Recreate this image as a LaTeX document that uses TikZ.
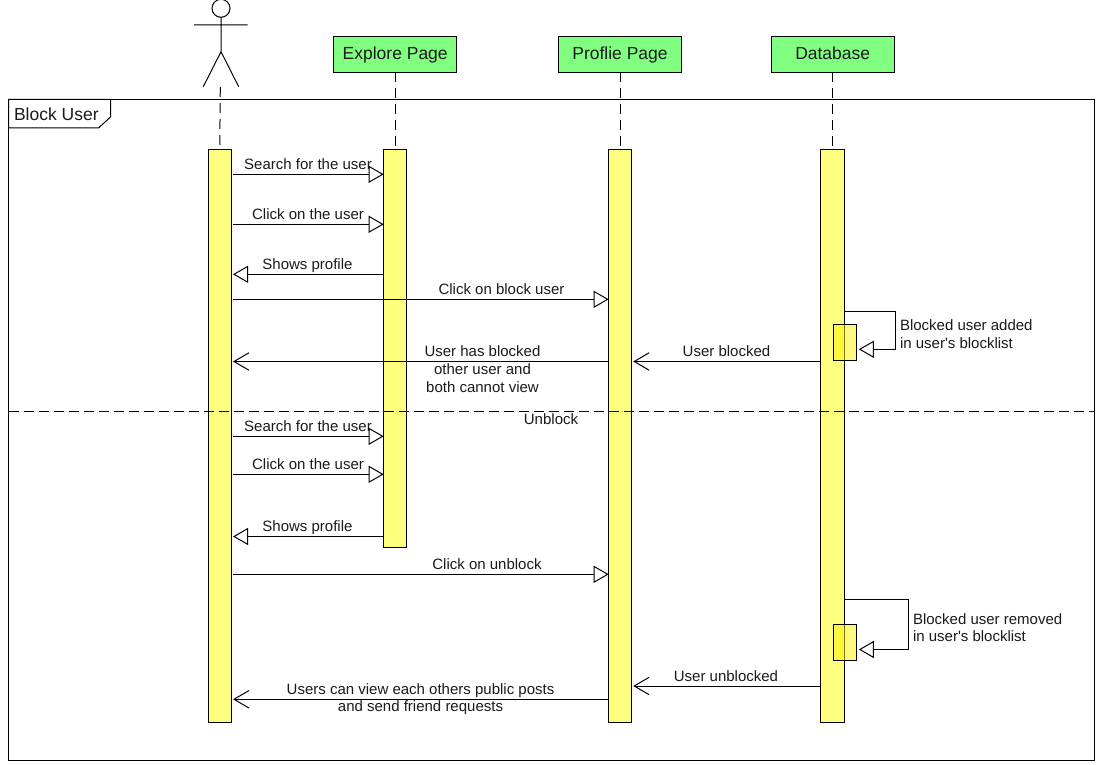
\documentclass[tikz,border=0pt]{standalone}
\usepackage{fontspec}
\setmainfont{Liberation Sans}
\usetikzlibrary{arrows.meta,calc}
\definecolor{hgreen}{HTML}{80FF80}
\definecolor{hyellow}{HTML}{FFFF80}
\definecolor{txt}{HTML}{1A1A1A}
\tikzset{
  every node/.style={outer sep=0pt},
  ln/.style={line width=1pt,black},
  head/.style={draw=black,line width=1pt,fill=hgreen,minimum width=123pt,minimum height=35.5pt,inner sep=0pt,font=\fontsize{17.5}{17.5}\selectfont,text=txt,text height=11.5pt,text depth=2pt},
  act/.style={draw=black,line width=1pt,fill=hyellow,inner sep=0pt,anchor=north west},
  sub/.style={draw=black,line width=1pt,fill=yellow,fill opacity=.5,inner sep=0pt,anchor=north west,minimum width=23pt,minimum height=36pt},
  life/.style={ln,dash pattern=on 10pt off 6pt},
  msg/.style={ln,-{Triangle[length=15pt,width=17pt,fill=white,line width=1pt]}},
  ret/.style={ln,-{Straight Barb[length=15pt,width=17.5pt,line width=1pt]}},
  lab/.style={inner sep=0pt,text=txt,font=\fontsize{15}{15}\selectfont,text height=10.5pt,text depth=0pt},
  llab/.style={lab,anchor=west},
}
\begin{document}
\begin{tikzpicture}[x=1pt,y=-1pt]
\useasboundingbox (0,0) rectangle (1100,765);
% frame
\node[draw=black,line width=1pt,minimum width=1086pt,minimum height=661pt,inner sep=0pt,anchor=north west] (frame) at (8.5,99.5) {};
\draw[ln,fill=white] (frame.north west) -- (110.5,99.5) -- (110.5,117) -- (98.5,128) -- (8.5,128) -- cycle;
\node[llab,font=\fontsize{17.5}{17.5}\selectfont,text height=12pt] (title) at (14,114.5) {Block User};
% actor
\node[draw=black,line width=1pt,circle,minimum size=18pt,inner sep=0pt] (ahead) at (221,8.3) {};
\coordinate (hip) at (221,51.7);
\coordinate (armL) at (194,25); \coordinate (armR) at (247.7,25);
\coordinate (legL) at (203.3,86.7); \coordinate (legR) at (238.7,86.7);
\draw[ln] (ahead.south) -- (hip) (armL) -- (armR) (legL) -- (hip) -- (legR);
% heads
\node[head] (hE) at (395.2,54.5) {Explore Page};
\node[head] (hP) at (620,54.5) {Proflie Page};
\node[head] (hD) at (832.7,54.5) {Database};
% activations
\node[act,minimum width=22.5pt,minimum height=573pt] (aU) at (208.5,149.5) {};
\node[act,minimum width=22.5pt,minimum height=398pt] (aE) at (383.7,149.5) {};
\node[act,minimum width=22.5pt,minimum height=573pt] (aP) at (608.7,149.5) {};
\node[act,minimum width=23.5pt,minimum height=573pt] (aD) at (820.7,149.5) {};
% lifelines
\coordinate (actorfoot) at (220.3,87);
\draw[life] (actorfoot) -- (aU.north);
\draw[life] (hE.south) -- (hE.south |- aE.north);
\draw[life] (hP.south) -- (hP.south |- aP.north);
\draw[life] (hD.south) -- (hD.south |- aD.north);
% divider
\coordinate (dL) at (9,411.5); \coordinate (dR) at (1094.5,411.5);
\draw[ln,dash pattern=on 10pt off 5pt] (dL) -- (dR);
% sub activations
\node[sub] (s1) at (833.3,324.5) {};
\node[sub] (s2) at (833.3,624.5) {};
% messages
\draw[msg] ([xshift=2pt]aU.east |- 0,174.3) -- (aE.west |- 0,174.3);
\draw[msg] ([xshift=2pt]aU.east |- 0,224.3) -- (aE.west |- 0,224.3);
\draw[msg] (aE.west |- 0,274.3) -- ([xshift=2pt]aU.east |- 0,274.3);
\draw[msg] ([xshift=2pt]aU.east |- 0,299.3) -- (aP.west |- 0,299.3);
\draw[ret] (aP.west |- 0,361.5) -- ([xshift=2pt]aU.east |- 0,361.5);
\draw[ret] (aD.west |- 0,361.5) -- ([xshift=2pt]aP.east |- 0,361.5);
\draw[msg] ([xshift=2pt]aU.east |- 0,436.3) -- (aE.west |- 0,436.3);
\draw[msg] ([xshift=2pt]aU.east |- 0,474.3) -- (aE.west |- 0,474.3);
\draw[msg] (aE.west |- 0,536.5) -- ([xshift=2pt]aU.east |- 0,536.5);
\draw[msg] ([xshift=2pt]aU.east |- 0,574.3) -- (aP.west |- 0,574.3);
\draw[ret] (aD.west |- 0,686) -- ([xshift=2pt]aP.east |- 0,686);
\draw[ret] (aP.west |- 0,699.3) -- ([xshift=2pt]aU.east |- 0,699.3);
\draw[msg] (aD.east |- 0,311) -- (895.5,311) -- (895.5,349.3) -- ([xshift=2.5pt]s1.east |- 0,349.3);
\draw[msg] (aD.east |- 0,599.3) -- (908.3,599.3) -- (908.3,649.5) -- ([xshift=2.5pt]s2.east |- 0,649.5);
% labels
\node[lab] (t1) at (308,164) {Search for the user};
\node[lab] (t2) at (308,214) {Click on the user};
\node[lab] (t3) at (307.5,264) {Shows profile};
\node[lab] (t4) at (501.5,289) {Click on block user};
\node[lab] (t5a) at (482.5,351) {User has blocked};
\node[lab] (t5b) at (482.5,369) {other user and};
\node[lab] (t5c) at (482.5,387) {both cannot view};
\node[lab] (t6) at (726.5,351) {User blocked};
\node[llab] (t7a) at (900,325) {Blocked user added};
\node[llab] (t7b) at (900,343) {in user\textquotesingle s blocklist};
\node[lab] (t8) at (551,419) {Unblock};
\node[lab] (t9) at (308,426) {Search for the user};
\node[lab] (t10) at (308,464) {Click on the user};
\node[lab] (t11) at (307.5,526) {Shows profile};
\node[lab] (t12) at (487,564) {Click on unblock};
\node[llab] (t13a) at (913,619) {Blocked user removed};
\node[llab] (t13b) at (913,636) {in user\textquotesingle s blocklist};
\node[lab] (t14) at (726,676) {User unblocked};
\node[lab] (t15a) at (420.5,689) {Users can view each others public posts};
\node[lab] (t15b) at (420.5,706) {and send friend requests};
\end{tikzpicture}
\end{document}
